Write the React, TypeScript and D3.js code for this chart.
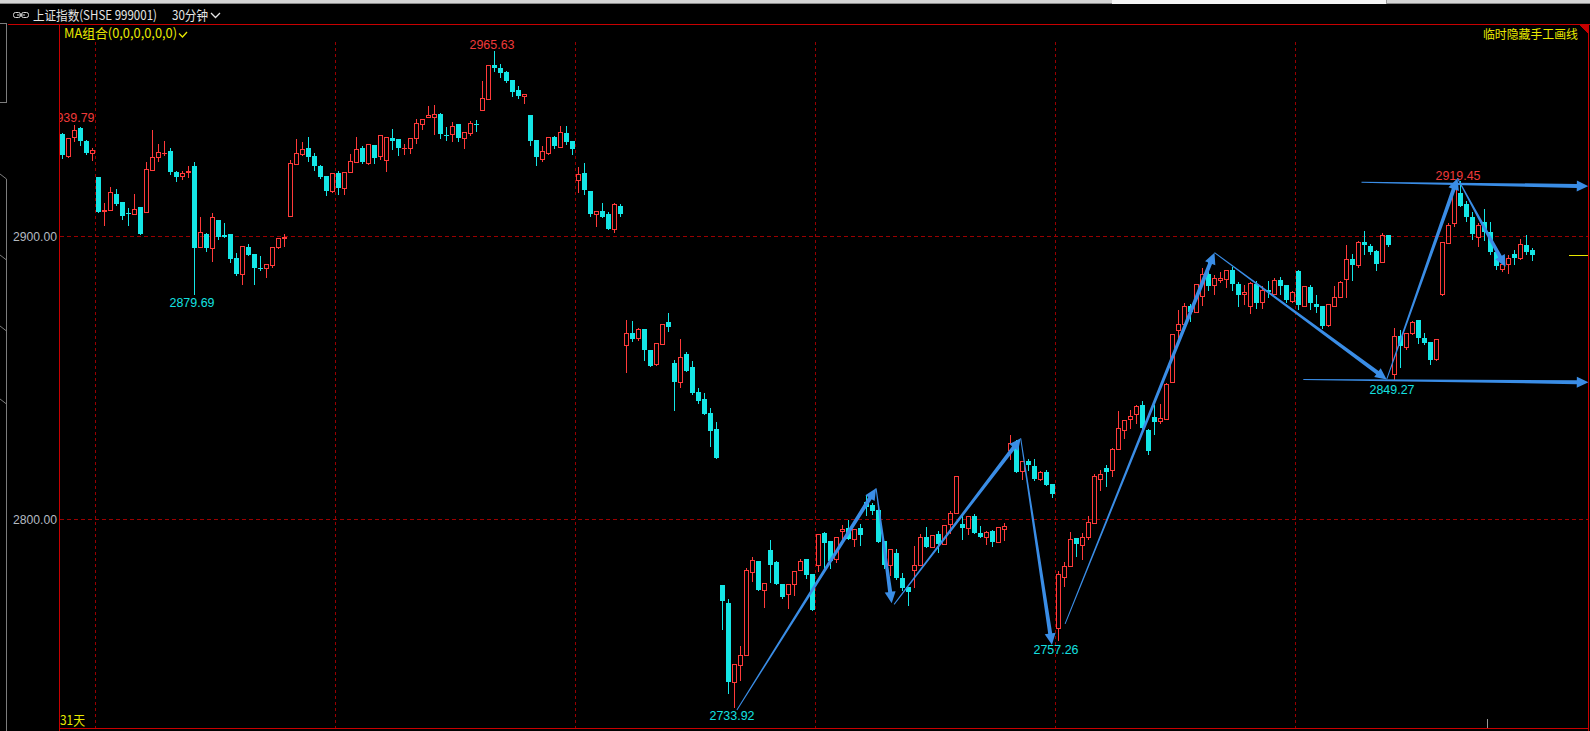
import React from "react";
import * as d3 from "d3";

// ---- data: 30-minute bars of 上证指数 ----
const opens = [
  2936.25,2928.59,2935.3,2938.23,2933.89,2929.4,2921.18,2909.18,2909.28,2915.18,
  2912.36,2908.47,2908.01,2910.59,2908.83,2923.65,2928.24,2929.44,2930.36,2922.95,
  2921.29,2922.84,2925.06,2896.22,2901.06,2895.87,2906.0,2900.6,2900.71,2892.23,
  2886.83,2896.12,2893.65,2888.95,2888.95,2889.87,2896.12,2899.4,2907.41,2925.52,
  2929.05,2931.42,2928.49,2925.06,2921.53,2916.24,2922.59,2917.05,2922.7,2926.23,
  2931.42,2925.87,2932.48,2928.35,2926.93,2934.95,2934.59,2931.17,2931.17,2934.84,
  2939.64,2942.11,2942.11,2943.42,2936.01,2936.11,2939.89,2934.95,2936.46,2939.78,
  2944.58,2948.71,2960.72,2959.66,2958.25,2955.42,2951.89,2949.67,2943.07,2934.24,
  2927.53,2929.65,2935.3,2931.77,2936.71,2933.89,2919.87,2922.59,2916.24,2907.87,
  2909.18,2908.12,2902.82,2910.94,2861.77,2865.76,2864.1,2867.17,2859.76,2854.92,
  2861.98,2869.64,2855.17,2848.46,2858.35,2853.76,2844.93,2842.46,2837.52,2831.87,
  2776.7,2770.34,2742.67,2748.45,2751.98,2781.5,2785.28,2775.14,2789.16,2784.82,
  2777.16,2773.73,2777.05,2782.2,2785.98,2780.69,2783.97,2795.16,2792.33,2785.87,
  2795.76,2797.17,2793.14,2796.82,2806.21,2805.04,2803.28,2792.33,2783.76,2787.99,
  2779.38,2776.2,2781.99,2783.76,2793.75,2790.32,2794.81,2791.17,2798.44,2802.47,
  2798.34,2797.03,2801.16,2795.16,2793.85,2795.87,2792.09,2796.67,2824.46,2827.03,
  2817.15,2820.82,2819.06,2814.33,2816.69,2812.7,2761.73,2779.73,2783.62,2793.5,
  2791.03,2793.64,2798.79,2814.33,2818.1,2817.5,2824.92,2831.77,2835.65,2837.41,
  2840.6,2831.52,2836.21,2834.8,2835.51,2848.57,2867.07,2869.18,2875.29,2873.28,
  2879.07,2886.83,2882.81,2884.72,2885.07,2888.0,2883.16,2879.77,2875.4,2883.3,
  2876.81,2880.94,2879.77,2884.47,2882.95,2877.16,2887.65,2875.4,2882.0,2876.24,
  2875.29,2868.58,2875.4,2878.57,2884.82,2892.13,2889.76,2898.23,2896.47,2894.71,
  2890.93,2900.6,2851.53,2864.7,2860.92,2865.86,2870.35,2864.24,2862.69,2856.58,
  2879.53,2897.63,2904.69,2915.28,2911.54,2906.81,2899.75,2905.05,2901.52,2894.46,
  2888.35,2890.36,2893.65,2892.34,2896.82,2895.06,
];
const highs = [
  2936.46,2935.3,2939.79,2938.58,2934.14,2931.77,2921.18,2912.36,2917.76,2916.94,
  2912.36,2910.24,2915.53,2910.59,2926.83,2938.12,2932.93,2934.14,2931.31,2923.3,
  2923.65,2925.42,2926.37,2907.41,2901.41,2908.83,2906.0,2904.94,2900.71,2894.0,
  2896.47,2897.18,2893.65,2892.94,2890.47,2896.12,2900.0,2901.16,2927.53,2934.95,
  2933.89,2935.05,2929.65,2925.31,2921.53,2922.49,2923.19,2922.84,2929.65,2935.55,
  2932.02,2933.08,2932.48,2935.9,2935.55,2938.12,2934.59,2933.18,2935.19,2941.9,
  2941.55,2946.6,2946.95,2943.77,2938.72,2940.95,2939.89,2936.96,2941.2,2941.3,
  2955.42,2960.72,2965.63,2960.82,2958.6,2955.42,2953.3,2950.48,2943.07,2934.24,
  2932.48,2935.65,2935.65,2939.54,2939.18,2933.89,2924.96,2926.12,2916.24,2909.18,
  2912.0,2908.72,2912.36,2911.65,2870.7,2870.0,2868.12,2867.42,2859.76,2862.58,
  2869.29,2872.82,2856.23,2864.0,2859.05,2855.88,2846.34,2844.58,2839.28,2834.34,
  2776.7,2771.75,2748.81,2755.51,2783.26,2787.14,2785.28,2777.4,2792.69,2785.28,
  2777.16,2777.05,2781.64,2786.44,2785.98,2780.69,2795.27,2795.51,2792.33,2793.99,
  2798.34,2799.75,2796.47,2798.58,2808.57,2805.99,2803.88,2792.33,2789.4,2789.4,
  2780.93,2776.2,2790.92,2795.27,2797.28,2794.35,2795.87,2798.23,2803.28,2815.28,
  2801.41,2801.41,2801.97,2797.74,2796.22,2796.32,2797.28,2799.04,2830.35,2828.24,
  2820.68,2821.53,2821.39,2817.4,2817.4,2812.7,2782.1,2785.28,2795.97,2793.5,
  2795.62,2801.51,2816.44,2817.75,2819.16,2825.62,2838.58,2835.65,2839.18,2840.94,
  2841.75,2832.12,2840.34,2841.3,2848.57,2865.65,2874.23,2876.81,2876.24,2883.3,
  2889.16,2890.93,2886.83,2887.75,2888.25,2889.16,2883.87,2883.06,2884.12,2884.12,
  2882.7,2884.12,2885.63,2885.63,2882.95,2880.94,2888.25,2882.35,2882.7,2879.42,
  2875.29,2876.0,2882.7,2884.47,2897.42,2893.65,2898.84,2902.12,2897.42,2895.06,
  2901.52,2900.6,2867.98,2866.82,2865.86,2870.35,2870.6,2865.86,2862.69,2863.89,
  2898.34,2905.05,2918.9,2919.45,2912.71,2908.83,2905.05,2909.78,2905.3,2895.06,
  2891.53,2893.65,2895.31,2899.54,2900.6,2895.87,
];
const lows = [
  2927.78,2927.99,2933.64,2932.23,2929.19,2927.18,2908.83,2904.24,2909.28,2911.3,
  2906.35,2904.24,2908.01,2900.81,2908.83,2923.65,2926.83,2928.7,2922.13,2919.52,
  2920.23,2920.93,2879.69,2896.22,2894.81,2891.28,2899.19,2899.75,2890.93,2886.34,
  2883.3,2893.4,2883.16,2888.0,2885.77,2889.3,2895.87,2896.58,2907.17,2925.52,
  2928.84,2926.83,2923.4,2920.83,2914.58,2915.89,2915.18,2915.18,2922.7,2926.23,
  2925.87,2925.52,2926.12,2927.53,2923.3,2931.06,2928.95,2929.3,2929.65,2933.18,
  2938.12,2942.11,2936.11,2934.7,2934.24,2933.89,2933.89,2931.42,2935.76,2937.42,
  2944.58,2948.47,2958.35,2956.48,2954.72,2949.77,2949.07,2947.05,2932.48,2925.42,
  2926.83,2929.3,2931.42,2931.77,2932.83,2929.3,2915.64,2915.18,2907.41,2903.64,
  2907.06,2902.82,2901.52,2907.41,2852.1,2862.94,2863.4,2856.23,2854.11,2854.46,
  2861.98,2866.47,2838.58,2846.7,2852.45,2844.23,2841.05,2837.17,2825.87,2821.63,
  2761.27,2738.57,2733.92,2743.27,2751.98,2778.32,2775.04,2769.14,2777.86,2777.26,
  2772.11,2768.79,2773.27,2782.2,2779.17,2768.08,2781.85,2782.33,2782.91,2784.82,
  2793.14,2793.14,2790.68,2791.03,2801.51,2801.87,2792.09,2782.91,2780.33,2778.81,
  2775.04,2769.85,2776.2,2783.76,2790.32,2790.11,2788.35,2791.17,2795.27,2802.47,
  2793.14,2794.81,2795.27,2793.85,2791.38,2790.68,2792.09,2792.8,2821.53,2816.8,
  2814.47,2817.4,2814.11,2813.87,2812.21,2807.97,2757.26,2776.56,2783.62,2787.14,
  2786.09,2792.94,2798.79,2810.44,2811.86,2815.39,2824.92,2828.8,2832.47,2834.1,
  2832.22,2823.29,2830.35,2834.1,2835.51,2848.57,2864.24,2869.18,2870.0,2873.28,
  2875.64,2880.94,2879.77,2883.87,2882.1,2880.94,2875.4,2876.0,2872.92,2874.69,
  2874.69,2878.57,2879.77,2879.77,2876.81,2876.81,2874.23,2875.4,2874.23,2873.28,
  2867.63,2868.34,2875.4,2878.57,2878.57,2884.47,2889.16,2893.89,2893.89,2888.25,
  2890.93,2896.47,2849.27,2853.86,2860.11,2865.65,2862.33,2862.12,2855.06,2856.23,
  2879.17,2897.63,2903.88,2910.94,2905.4,2899.19,2896.58,2898.59,2893.89,2888.6,
  2887.75,2887.19,2890.36,2891.99,2893.89,2891.78,
];
const closes = [
  2928.95,2934.95,2937.77,2933.89,2929.65,2930.6,2908.83,2909.53,2915.89,2911.65,
  2907.41,2907.87,2909.88,2900.81,2923.9,2928.24,2929.9,2929.62,2922.7,2920.93,
  2922.59,2923.05,2895.87,2901.66,2895.76,2906.95,2899.65,2900.0,2891.88,2886.59,
  2896.47,2893.4,2888.81,2888.35,2890.12,2896.12,2899.4,2899.65,2926.02,2929.55,
  2931.06,2927.99,2925.06,2921.18,2916.24,2922.49,2917.05,2922.84,2926.72,2931.06,
  2926.48,2932.72,2927.89,2935.9,2935.19,2933.89,2931.42,2931.42,2934.84,2940.24,
  2941.55,2942.96,2943.31,2936.11,2935.41,2939.08,2934.95,2936.96,2940.24,2939.29,
  2949.07,2960.72,2959.41,2957.89,2955.07,2951.19,2949.77,2950.48,2933.89,2928.24,
  2930.36,2935.3,2932.12,2937.07,2933.54,2931.06,2922.13,2916.59,2908.12,2909.18,
  2907.06,2902.82,2911.65,2908.12,2866.0,2863.64,2867.42,2859.76,2854.11,2862.23,
  2868.94,2867.88,2848.46,2857.53,2852.45,2844.58,2841.75,2837.17,2831.17,2821.63,
  2771.26,2742.67,2748.81,2751.98,2781.99,2785.63,2775.04,2777.4,2783.97,2777.26,
  2772.57,2777.05,2781.64,2785.17,2780.33,2768.08,2794.7,2791.73,2785.17,2793.99,
  2796.67,2793.14,2796.47,2794.56,2804.44,2803.03,2792.09,2783.86,2789.4,2779.17,
  2775.85,2774.44,2783.76,2793.64,2790.32,2794.35,2791.38,2798.23,2802.47,2815.28,
  2797.03,2801.41,2795.27,2793.85,2795.51,2792.09,2797.28,2797.63,2827.03,2816.8,
  2820.68,2819.27,2814.33,2816.69,2812.21,2809.17,2780.58,2783.51,2793.04,2791.28,
  2793.64,2799.04,2815.53,2816.23,2816.69,2825.06,2832.47,2835.3,2836.46,2840.24,
  2832.37,2824.11,2834.45,2835.86,2848.0,2865.65,2869.18,2875.54,2873.28,2883.3,
  2886.83,2882.35,2885.42,2885.42,2888.25,2883.06,2879.17,2880.23,2883.51,2876.45,
  2880.94,2880.34,2884.47,2882.46,2877.41,2880.48,2875.64,2882.35,2876.45,2875.04,
  2868.23,2876.0,2878.47,2883.76,2892.13,2889.76,2898.23,2896.82,2894.46,2890.12,
  2900.6,2896.82,2864.7,2861.17,2865.86,2869.75,2864.1,2862.33,2856.23,2863.89,
  2897.99,2904.24,2918.6,2910.94,2907.06,2900.95,2904.24,2901.52,2894.46,2889.52,
  2890.36,2892.48,2892.48,2897.42,2894.46,2893.54,
];

const yTicks = [2800, 2900];
const weekStarts = [6, 46, 86, 126, 166, 206];

// extreme-value labels
const markIdx = [2, 22, 72, 112, 166, 222, 233];
const markVal = [2939.79, 2879.69, 2965.63, 2733.92, 2757.26, 2849.27, 2919.45];
const markSide = ["high", "low", "high", "low", "low", "low", "high"];

// hand-drawn arrow lines (bar index, price)
const arrowFromIdx = [112.4, 135.6, 138.6, 159.7, 167.1, 192.0, 220.7, 232.5, 216.5, 206.8];
const arrowFromPx = [2732.7, 2811.0, 2770.0, 2828.7, 2763.1, 2894.3, 2849.5, 2920.6, 2919.2, 2849.5];
const arrowToIdx = [135.6, 138.2, 159.7, 164.9, 192.0, 220.7, 232.5, 240.5, 254.3, 254.3];
const arrowToPx = [2811.0, 2770.4, 2828.7, 2755.7, 2894.3, 2849.5, 2920.6, 2889.3, 2917.8, 2848.5];

const UP = "#ff3a3a";
const DOWN = "#14e6e6";
const ARROW = "#3a8de6";
const AXIS = "#c80000";
const GRID = "#9a0000";
const YEL = "#e8e800";

const x = d3.scaleLinear().domain([0, 245]).range([62.5, 1532.5]);
const y = d3.scaleLinear().domain([2800, 2900]).range([519.5, 236.5]);

const snap = (v: number) => Math.round(v) + 0.5;

function arrowPath(x0: number, y0: number, x1: number, y1: number) {
  const dx = x1 - x0, dy = y1 - y0;
  const len = Math.hypot(dx, dy);
  const ux = dx / len, uy = dy / len;
  const nx = -uy, ny = ux;
  const hl = 11.5, hw = 5.5, w0 = 0.5, w1 = 2;
  const bx = x1 - ux * hl, by = y1 - uy * hl;
  const pts: [number, number][] = [
    [x0 + nx * w0, y0 + ny * w0],
    [bx + nx * w1, by + ny * w1],
    [bx + nx * hw, by + ny * hw],
    [x1, y1],
    [bx - nx * hw, by - ny * hw],
    [bx - nx * w1, by - ny * w1],
    [x0 - nx * w0, y0 - ny * w0],
  ];
  return (d3.line()(pts) as string) + "Z";
}

const NUM = "'Liberation Sans', Arial, sans-serif";
const CJK = "'Noto Sans CJK SC', 'Noto Sans', sans-serif";

export default function App() {
  const candles = opens.map((o, i) => {
    const c = closes[i];
    const cx = x(i);
    const yH = snap(y(highs[i]));
    const yL = snap(y(lows[i]));
    const yO = snap(y(o));
    const yC = snap(y(c));
    if (c >= o) {
      const top = Math.min(yO, yC), bot = Math.max(yO, yC);
      return (
        <g key={i} stroke={UP} strokeWidth={1} fill="none">
          {yH < top && <line x1={cx} x2={cx} y1={yH} y2={top} />}
          {yL > bot && <line x1={cx} x2={cx} y1={bot} y2={yL} />}
          {bot - top >= 1 ? (
            <rect x={cx - 2} y={top} width={4} height={bot - top} />
          ) : (
            <line x1={cx - 2.5} x2={cx + 2.5} y1={top} y2={top} />
          )}
        </g>
      );
    }
    const top = Math.round(y(o)), bot = Math.round(y(c));
    return (
      <g key={i}>
        <line x1={cx} x2={cx} y1={yH - 0.5} y2={yL + 0.5} stroke={DOWN} strokeWidth={1} />
        <rect x={cx - 2.5} y={top} width={5} height={Math.max(bot - top, 1)} fill={DOWN} />
      </g>
    );
  });

  const lastY = snap(y(closes[closes.length - 1]));

  return (
    <div style={{ position: "fixed", left: 0, top: 0, width: 1590, height: 731, background: "#000" }}>
      <svg width={1590} height={731} style={{ display: "block" }} shapeRendering="crispEdges">
        <defs>
          <clipPath id="plot">
            <rect x={60} y={25} width={1528} height={703} />
          </clipPath>
        </defs>
        <rect x={0} y={0} width={1590} height={731} fill="#000" />
        {/* window chrome */}
        <rect x={0} y={0} width={1590} height={3} fill="#d4d4d4" />
        <rect x={0} y={3} width={1590} height={1} fill="#8a8a8a" />
        <rect x={1112} y={0} width={274} height={4} fill="#f4f4f4" />
        <line x1={1386.5} x2={1386.5} y1={0} y2={4} stroke="#9a9a9a" />

        {/* header */}
        <g stroke="#d8d8d8" fill="none" shapeRendering="auto">
          <rect x={13.5} y={12.5} width={7} height={5} rx={2} />
          <rect x={21.5} y={12.5} width={7} height={5} rx={2} />
          <line x1={17} x2={25} y1={15} y2={15} />
        </g>
        <text x={33} y={20} fill="#e4e4e4" fontFamily={CJK} fontSize={13} textLength={124} lengthAdjust="spacingAndGlyphs">
          上证指数(SHSE 999001)
        </text>
        <text x={172} y={20} fill="#e4e4e4" fontFamily={CJK} fontSize={13} textLength={36} lengthAdjust="spacingAndGlyphs">
          30分钟
        </text>
        <path d="M211,13 L215.5,17.5 L220,13" stroke="#e4e4e4" fill="none" strokeWidth={1.3} shapeRendering="auto" />

        {/* left side panel decorations */}
        <g stroke="#7c7c7c" fill="none">
          <path d="M-1,23.5 H6.5 V102.5 H-1" />
          <line x1={6.5} x2={6.5} y1={179} y2={731} />
        </g>
        <g stroke="#7c7c7c" fill="none" shapeRendering="auto">
          <line x1={0} y1={174} x2={6.5} y2={179} />
          <line x1={0} y1={255} x2={6.5} y2={260} />
          <line x1={0} y1={326} x2={6.5} y2={331} />
          <line x1={0} y1={399} x2={6.5} y2={404} />
        </g>

        {/* grid */}
        {yTicks.map((t) => (
          <line key={"h" + t} x1={60} x2={1588} y1={y(t)} y2={y(t)} stroke={GRID} strokeDasharray="4,3" />
        ))}
        {weekStarts.map((i) => (
          <line key={"v" + i} x1={x(i) - 3} x2={x(i) - 3} y1={42} y2={728} stroke={GRID} strokeDasharray="3,3" />
        ))}

        {/* y-axis labels */}
        {yTicks.map((t) => (
          <text key={"t" + t} x={57} y={y(t) + 4.5} textAnchor="end" fill="#b4bac0" fontFamily={NUM} fontSize={13} textLength={44} lengthAdjust="spacingAndGlyphs">
            {d3.format(".2f")(t)}
          </text>
        ))}

        {/* frame */}
        <line x1={8} x2={1590} y1={24.5} y2={24.5} stroke={AXIS} />
        <line x1={59.5} x2={59.5} y1={24.5} y2={731} stroke={AXIS} />
        <line x1={1588.5} x2={1588.5} y1={24.5} y2={731} stroke={AXIS} />
        <line x1={59.5} x2={1588.5} y1={728.5} y2={728.5} stroke={AXIS} />
        <path d="M1579,25 L1589,25 L1589,35 Z" fill={AXIS} />

        <g clipPath="url(#plot)">
          {candles}
          {/* extreme labels */}
          {markIdx.map((i, k) => {
            const isHigh = markSide[k] === "high";
            const v = markVal[k];
            return (
              <text
                key={"m" + k}
                x={x(i) - 2.5}
                y={isHigh ? y(v) - 1.5 : y(v) + 13.5}
                textAnchor="middle"
                fill={isHigh ? "#f03a3a" : "#14e0e0"}
                fontFamily={NUM}
                fontSize={13.5}
                textLength={45}
                lengthAdjust="spacingAndGlyphs"
              >
                {d3.format(".2f")(v)}
              </text>
            );
          })}
          {/* arrows */}
          <g shapeRendering="auto" fill={ARROW}>
            {arrowFromIdx.map((fi, k) => (
              <path key={"a" + k} d={arrowPath(x(fi), y(arrowFromPx[k]), x(arrowToIdx[k]), y(arrowToPx[k]))} />
            ))}
          </g>
        </g>

        {/* last price marker */}
        <line x1={1569} x2={1588} y1={lastY} y2={lastY} stroke={YEL} />
        {/* bottom tick */}
        <line x1={1487.5} x2={1487.5} y1={719} y2={728} stroke="#9a9a9a" />

        {/* overlay texts */}
        <text x={64} y={37.5} fill={YEL} fontFamily={CJK} fontSize={13} textLength={113} lengthAdjust="spacingAndGlyphs">
          MA组合(0,0,0,0,0,0)
        </text>
        <path d="M179,33.5 L182.5,37 L187,32" stroke={YEL} fill="none" strokeWidth={1.3} shapeRendering="auto" />
        <text x={1483} y={38.5} fill={YEL} fontFamily={CJK} fontSize={12.5} textLength={95} lengthAdjust="spacingAndGlyphs">
          临时隐藏手工画线
        </text>
        <text x={60} y={725} fill={YEL} fontFamily={CJK} fontSize={13} textLength={25} lengthAdjust="spacingAndGlyphs">
          31天
        </text>
      </svg>
    </div>
  );
}
